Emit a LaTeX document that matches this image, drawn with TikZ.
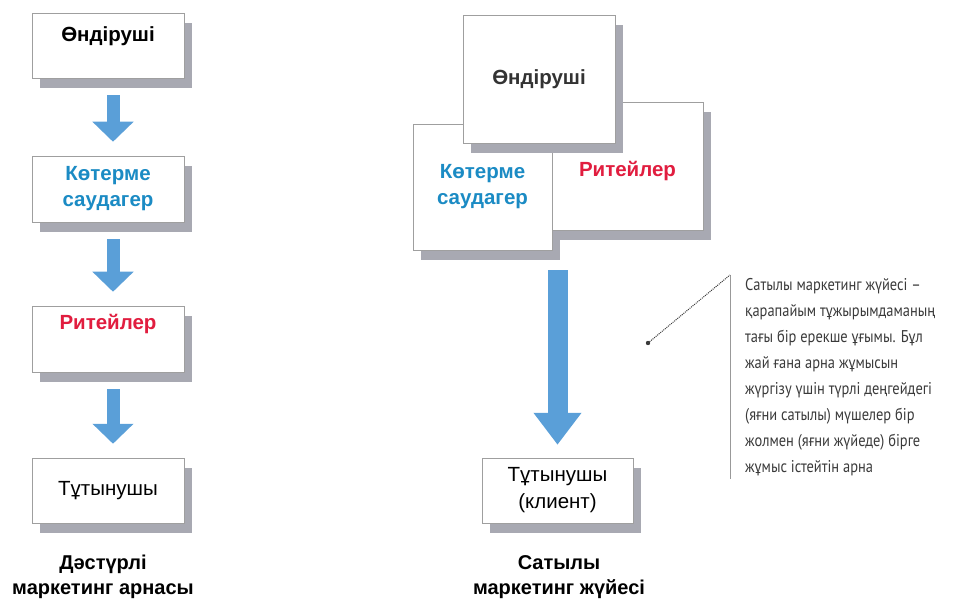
\documentclass[tikz,border=0pt]{standalone}
\usepackage{fontspec}
\setmainfont{Liberation Sans}
\newfontfamily\notefont[FakeStretch=0.85]{PT Sans}
\usetikzlibrary{arrows.meta, shadows}
\definecolor{wholeblue}{HTML}{1B8BC4}
\definecolor{retailred}{HTML}{E11D3F}
\definecolor{flowblue}{HTML}{5A9FD8}
\definecolor{shadowgray}{HTML}{A8A9B2}
\definecolor{notegray}{HTML}{3A3A3A}

\begin{document}
\begin{tikzpicture}[x=1pt, y=-1pt,
    card/.style={draw=gray!75, line width=0.5pt, fill=white, inner sep=0pt, align=center,
        general shadow={shadow xshift=8pt, shadow yshift=-10pt, fill=shadowgray}},
    boldtext/.style={font=\fontsize{20.5}{26}\selectfont\bfseries},
    normtext/.style={font=\fontsize{20.5}{27}\selectfont},
    toptext/.style={text height=14pt, text depth=#1},
    flow/.style={draw=flowblue, line width=13pt, -{Triangle[length=20pt, width=40pt]},
        shorten <=17pt, shorten >=14pt},
    bigflow/.style={draw=flowblue, line width=20pt, -{Triangle[length=32pt, width=46pt]},
        shorten <=20pt, shorten >=13pt},
    caption/.style={font=\fontsize{20}{25}\selectfont\bfseries, align=center},
    note/.style={font=\notefont\fontsize{17}{26}\selectfont, text=notegray, align=left,
        inner xsep=15pt, inner ysep=3pt}]
    \useasboundingbox (0,0) rectangle (975,604);

    % Traditional channel
    \node[card, boldtext, toptext=21pt, minimum width=152pt, minimum height=65pt] (p1) at (108,45.5) {Өндіруші};
    \node[card, boldtext, text=wholeblue, minimum width=152pt, minimum height=66pt] (w1) at (108,189) {Көтерме\\саудагер};
    \node[card, boldtext, toptext=32pt, text=retailred, minimum width=152pt, minimum height=66pt] (r1) at (108,339) {Ритейлер};
    \node[card, normtext, minimum width=152pt, minimum height=65pt] (c1) at (108,490.5) {Тұтынушы};

    \draw[flow] ([xshift=5pt]p1.south) -- ([xshift=5pt]w1.north);
    \draw[flow] ([xshift=5pt]w1.south) -- ([xshift=5pt]r1.north);
    \draw[flow] ([xshift=5pt]r1.south) -- ([xshift=5pt]c1.north);

    \node[caption] (t1) at (103,577) {Дәстүрлі\\маркетинг арнасы};

    % Vertical marketing system
    \node[card, boldtext, text=wholeblue, minimum width=139pt, minimum height=126pt] (w2) at (482.5,187) {Көтерме\\саудагер};
    \node[card, boldtext, text height=26pt, text depth=4pt, text=retailred, minimum width=151pt, minimum height=128pt] (r2) at (627.5,166) {Ритейлер};
    \node[card, boldtext, text=black!80, minimum width=152pt, minimum height=128pt] (p2) at (539,79) {Өндіруші};
    \node[card, normtext, minimum width=151pt, minimum height=65pt] (c2) at (557.5,490.5) {Тұтынушы\\(клиент)};

    \draw[bigflow] (c2.north |- w2.south) -- (c2.north);

    \node[caption] (t2) at (559,577) {Сатылы\\маркетинг жүйесі};

    % Note
    \node[note, anchor=north west] (txt) at (730,275) {Сатылы маркетинг жүйесі –\\қарапайым тұжырымдаманың\\тағы бір ерекше ұғымы. Бұл\\жай ғана арна жұмысын\\жүргізу үшін түрлі деңгейдегі\\(яғни сатылы) мүшелер бір\\жолмен (яғни жүйеде) бірге\\жұмыс істейтін арна};
    \draw[gray!80, line width=0.8pt] (txt.north west) -- (txt.south west);
    \coordinate (tip) at (648,343);
    \fill[notegray] (tip) circle (2.2pt);
    \draw[notegray, densely dotted, line width=1pt] (tip) -- (txt.north west);
\end{tikzpicture}
\end{document}
